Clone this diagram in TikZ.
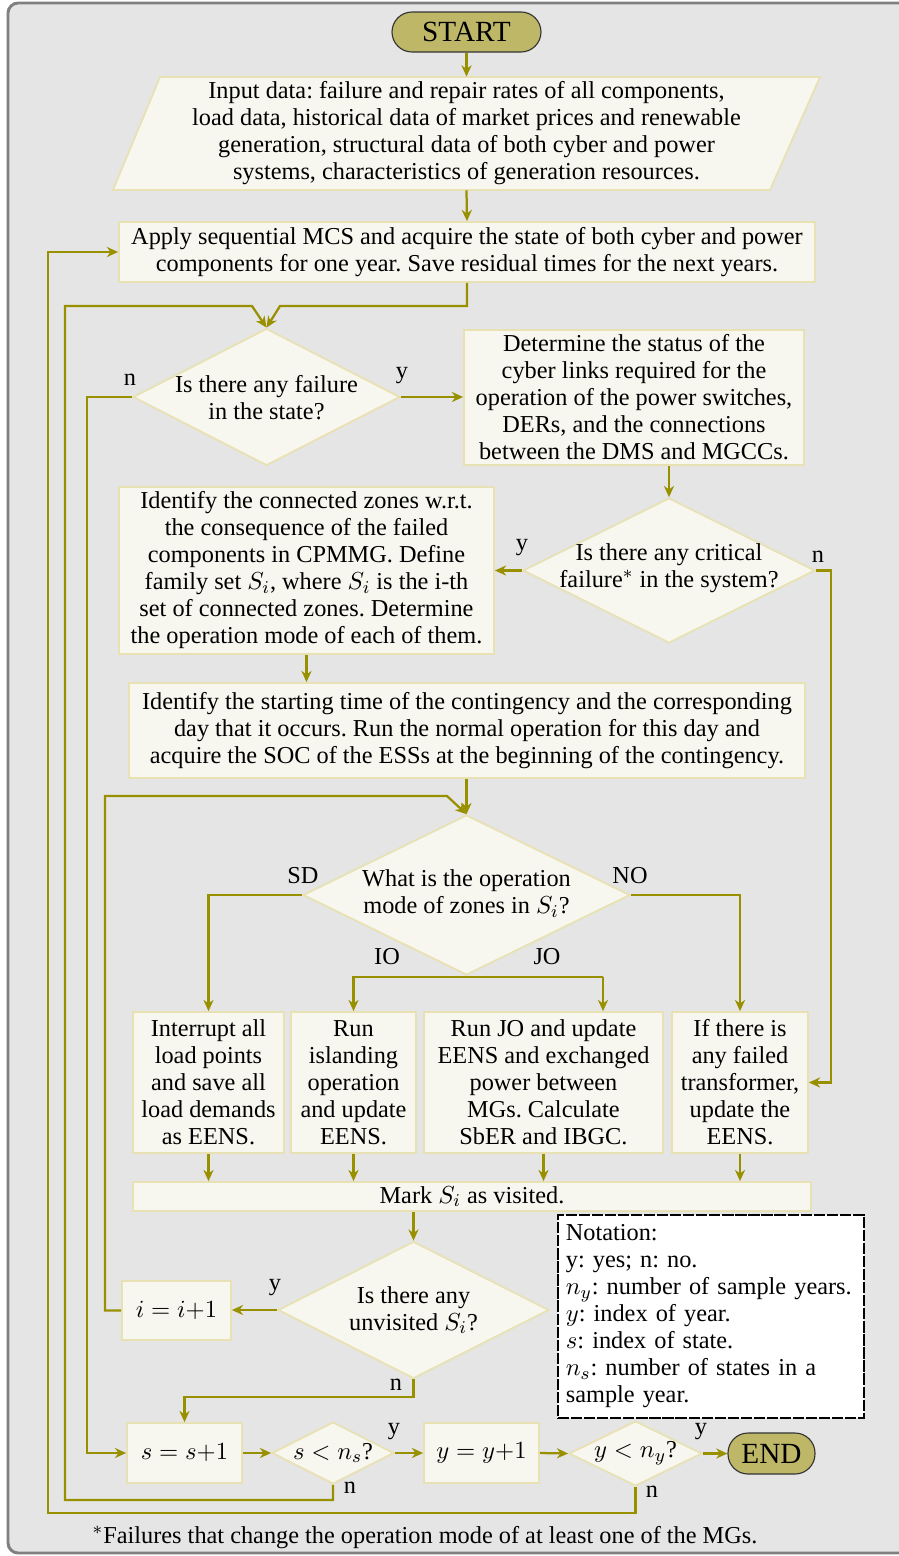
\documentclass[tikz,border=0pt]{standalone}
\usepackage{fontspec}
\setmainfont{Liberation Serif}
\usetikzlibrary{shapes.geometric,arrows.meta}
\definecolor{flow}{RGB}{153,144,0}
\definecolor{boxfill}{RGB}{247,247,239}
\definecolor{boxline}{RGB}{232,225,180}
\definecolor{termfill}{RGB}{191,183,104}
\definecolor{panel}{RGB}{229,229,229}
\definecolor{panelline}{RGB}{128,128,128}
\frenchspacing
\begin{document}
\begin{tikzpicture}[x=0.4444pt,y=-0.4444pt,
  font=\fontsize{10.8}{12}\selectfont,
  sz/.style 2 args={minimum width=#1*0.4444pt, minimum height=#2*0.4444pt},
  proc/.style={draw=boxline, fill=boxfill, line width=0.8pt, inner sep=0pt, align=center},
  dia/.style={draw=boxline, fill=boxfill, line width=0.8pt, diamond, inner sep=0pt},
  dtext/.style={inner sep=0pt, align=center},
  term/.style={draw=black!80, fill=termfill, line width=0.5pt, rounded corners=8.9pt, inner sep=0pt, font=\fontsize{13}{15}\selectfont},
  flowline/.style={draw=flow, line width=1pt, -{Stealth[length=5pt,width=4.5pt]}},
  lbl/.style={inner sep=0pt},
  note/.style={draw=black, fill=white, line width=0.5pt, dash pattern=on 5pt off 0.8pt, align=left, inner xsep=3.5pt, inner ysep=0pt, text width=129pt}
]
\useasboundingbox (0,0) rectangle (899,1556);
% panel
\path[fill=panel, draw=panelline, line width=1.3pt, rounded corners=4.5pt] (8,3) rectangle (915,1553);

% terminals
\node[term, sz={149}{40}] (start) at (466.5,32) {START};
\node[term, sz={87}{41}] (end) at (771.5,1453.5) {END};

% input data (parallelogram)
\path[draw=boxline, fill=boxfill, line width=0.8pt] (160,77) -- (820,77) -- (770,190) -- (113,190) -- cycle;
\node[dtext, sz={660}{113}] (inp) at (466.5,133.5) {Input data: failure and repair rates of all components,\\load data, historical data of market prices and renewable\\generation, structural data of both cyber and power\\systems, characteristics of generation resources.};

\node[proc, sz={696}{60}] (mcs) at (467,252) {Apply sequential MCS and acquire the state of both cyber and power\\components for one year. Save residual times for the next years.};

\node[dia, sz={267}{137}] (d1) at (266.5,397) {};
\node[dtext] (d1t) at (266.5,398) {Is there any failure\\in the state?};

\node[proc, sz={340}{135}] (b2) at (634,397.5) {Determine the status of the\\cyber links required for the\\operation of the power switches,\\DERs, and the connections\\between the DMS and MGCCs.};

\node[dia, sz={292}{145}] (d2) at (669,570.5) {};
\node[dtext] (d2t) at (669,568.5) {Is there any critical\\failure$^*$ in the system?};

\node[proc, sz={375}{167}] (b3) at (306.5,570.5) {Identify the connected zones w.r.t.\\the consequence of the failed\\components in CPMMG. Define\\family set $S_i$, where $S_i$ is the i-th\\set of connected zones. Determine\\the operation mode of each of them.};

\node[proc, sz={676}{95}] (b4) at (467,730.5) {Identify the starting time of the contingency and the corresponding\\day that it occurs. Run the normal operation for this day and\\acquire the SOC of the ESSs at the beginning of the contingency.};

\node[dia, sz={327}{160}] (d3) at (466.5,895) {};
\node[dtext] (d3t) at (466.5,893.5) {What is the operation\\mode of zones in $S_i$?};

\node[proc, sz={151}{141}] (b5) at (208.5,1082.5) {Interrupt all\\load points\\and save all\\load demands\\as EENS.};
\node[proc, sz={125}{141}] (b6) at (353.5,1082.5) {Run\\islanding\\operation\\and update\\EENS.};
\node[proc, sz={239}{141}] (b7) at (543.5,1082.5) {Run JO and update\\EENS and exchanged\\power between\\MGs. Calculate\\SbER and IBGC.};
\node[proc, sz={136}{141}] (b8) at (740,1082.5) {If there is\\any failed\\transformer,\\update the\\EENS.};

\node[proc, sz={678}{29}] (mark) at (472,1196.5) {Mark $S_i$ as visited.};

\node[dia, sz={271}{137}] (d4) at (413.5,1310) {};
\node[dtext] (d4t) at (413.5,1310) {Is there any\\unvisited $S_i$?};

\node[proc, sz={109}{59}] (ibox) at (176.5,1310.5) {$i=i{+}1$};
\node[proc, sz={115}{60}] (sbox) at (184.5,1453) {$s=s{+}1$};
\node[dia, sz={122}{62}] (d5) at (333,1453) {};
\node[dtext] (d5t) at (333,1453) {$s<n_s$?};
\node[proc, sz={115}{60}] (ybox) at (481.5,1453) {$y=y{+}1$};
\node[dia, sz={133}{65}] (d6) at (635.5,1453.5) {};
\node[dtext] (d6t) at (635.5,1453.5) {$y<n_y$?};

% notation
\node[note, sz={306}{203}] (notes) at (711,1316.5) {Notation:\\y: yes; n: no.\\$n_y$: number of sample years.\\$y$: index of year.\\$s$: index of state.\\$n_s$: number of states in a\\sample year.};

% footnote
\node[lbl] (foot) at (425,1537) {$^*$Failures that change the operation mode of at least one of the MGs.};

% bend points
\coordinate (q1) at (280,306);
\coordinate (q2) at (65,1500);
\coordinate (q3) at (252,306);
\coordinate (q4) at (48,1513);
\coordinate (q5) at (87,1453);
\coordinate (q6) at (831,1082.5);
\coordinate (q7) at (105,796);
\coordinate (q8) at (447,796);
\coordinate (q9) at (184.5,1397);
\coordinate (jo) at (603,977);

% connectors
\draw[flowline] (start.south) -- (inp.north);
\draw[flowline] (inp.south) -- (mcs.north);
\draw[flowline] (mcs.south) |- (q1) -- (d1.north);
\draw[flowline] (d5.south) |- (q2) |- (q3) -- (d1.north);
\draw[flowline] (d6.south) |- (q4) |- (mcs.west);
\draw[flowline] (d1.east) -- (d1.east -| b2.west);
\draw[flowline] (d1.west) -| (q5) -- (sbox.west);
\draw[flowline] (b2.south -| d2.north) -- (d2.north);
\draw[flowline] (d2.west) -- (d2.west -| b3.east);
\draw[flowline] (d2.east) -| (q6) -- (b8.east);
\draw[flowline] (b3.south) -- (b3.south |- b4.north);
\draw[flowline] (b4.south -| d3.north) -- (d3.north);
\draw[flowline] (ibox.west) -| (q7) -- (q8) -- (d3.north);
\draw[flowline] (d3.west) -| (b5.north);
\draw[flowline] (d3.east) -| (b8.north);
\draw[flowline] (d3.south) |- (jo) -| (b6.north);
\draw[flowline] (jo) -- (jo |- b7.north);
\draw[flowline] (b5.south) -- (b5.south |- mark.north);
\draw[flowline] (b6.south) -- (b6.south |- mark.north);
\draw[flowline] (b7.south) -- (b7.south |- mark.north);
\draw[flowline] (b8.south) -- (b8.south |- mark.north);
\draw[flowline] (mark.south -| d4.north) -- (d4.north);
\draw[flowline] (d4.west) -- (d4.west -| ibox.east);
\draw[flowline] (d4.south) |- (q9) -- (sbox.north);
\draw[flowline] (sbox.east) -- (d5.west);
\draw[flowline] (d5.east) -- (ybox.west);
\draw[flowline] (ybox.east) -- (d6.west);
\draw[flowline] (d6.east) -- (end.west);

% branch labels
\node[lbl] (l1n) at (130,380) {n};
\node[lbl] (l1y) at (402,376) {y};
\node[lbl] (l2y) at (522,548) {y};
\node[lbl] (l2n) at (818,557) {n};
\node[lbl] (l3sd) at (303,876) {SD};
\node[lbl] (l3no) at (630,876) {NO};
\node[lbl] (l3io) at (387,957) {IO};
\node[lbl] (l3jo) at (547,957) {JO};
\node[lbl] (l4y) at (275,1288) {y};
\node[lbl] (l4n) at (396,1385) {n};
\node[lbl] (l5y) at (394,1432) {y};
\node[lbl] (l5n) at (350,1488) {n};
\node[lbl] (l6y) at (701,1432) {y};
\node[lbl] (l6n) at (652,1492) {n};
\end{tikzpicture}
\end{document}
